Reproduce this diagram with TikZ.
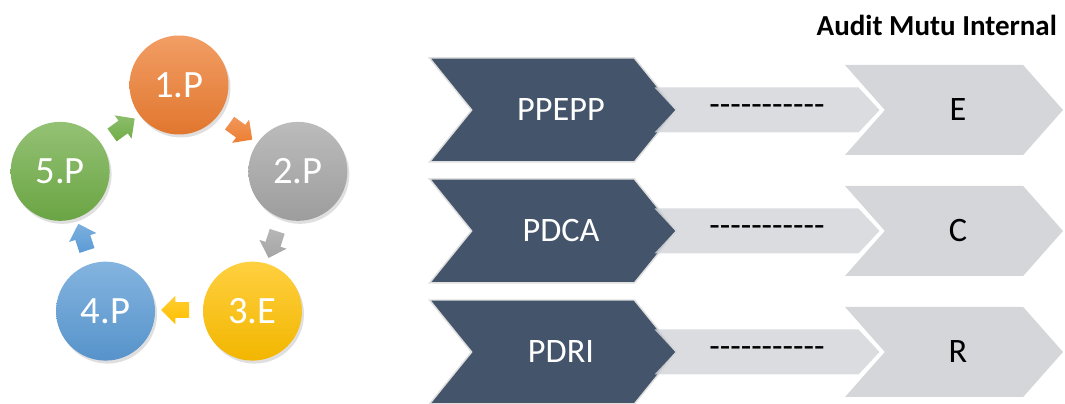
\documentclass[tikz,border=0pt]{standalone}
\usepackage{fontspec}
\setmainfont{Carlito}
\usetikzlibrary{shapes.symbols,shapes.arrows,shadows}

\definecolor{slate}{HTML}{44546A}
\definecolor{paleGrey}{HTML}{D4D6DA}
\definecolor{orangeP}{HTML}{ED7D31}
\definecolor{greyP}{HTML}{A5A5A5}
\definecolor{goldE}{HTML}{FFC000}
\definecolor{blueP}{HTML}{5B9BD5}
\definecolor{greenP}{HTML}{70AD47}

% eleven plain hyphens, kept apart so they do not join into dashes
\newcommand{\hyph}{-\kern0pt}
\newcommand{\dashline}{\hyph\hyph\hyph\hyph\hyph\hyph\hyph\hyph\hyph\hyph\hyph}

\begin{document}
\begin{tikzpicture}[x=0.02cm,y=0.02cm,
    ring node/.style={circle, minimum size=1.98cm, inner sep=0pt, text=white,
      font=\fontsize{22}{22}\selectfont, top color=#1!75!white, bottom color=#1!95!black,
      drop shadow={opacity=0.25, shadow xshift=0.04cm, shadow yshift=-0.06cm}},
    ring arrow/.style={single arrow, minimum height=0.56cm, minimum width=0.56cm,
      inner sep=0.15cm, single arrow head extend=0.13cm, top color=#1!80!white, bottom color=#1},
    dark chev/.style={signal, signal to=east, signal from=west, signal pointer angle=102,
      minimum width=4.94cm, minimum height=2.08cm, inner sep=0pt, fill=slate,
      draw=gray!25, line width=0.03cm, text=white, font=\fontsize{19.5}{20}\selectfont},
    mid chev/.style={signal, signal to=east, signal from=west, signal pointer angle=94,
      minimum width=4.5cm, minimum height=0.9cm, inner sep=0pt, fill=paleGrey,
      fill opacity=0.85, text opacity=1, font=\fontsize{19.5}{20}\selectfont},
    pale chev/.style={signal, signal to=east, signal from=west, signal pointer angle=97,
      minimum width=4.36cm, minimum height=1.8cm, inner sep=0pt, fill=paleGrey,
      font=\fontsize{19.5}{20}\selectfont}]

  \useasboundingbox (0,0) rectangle (1065,404);

  % cycle on the left
  \begin{scope}[shift={(179,194)}]
    \node[ring node=orangeP] (p1) at (90:125) {1.P};
    \node[ring node=greyP]   (p2) at (18:125) {2.P};
    \node[ring node=goldE]   (e3) at (-54:125) {3.E};
    \node[ring node=blueP]   (p4) at (-126:125) {4.P};
    \node[ring node=greenP]  (p5) at (162:125) {5.P};

    \node[ring arrow=orangeP, rotate=-36]  (a12) at (54:100) {};
    \node[ring arrow=greyP,   rotate=-108] (a23) at (-18:100) {};
    \node[ring arrow=goldE,   rotate=180]  (a34) at (-90:100) {};
    \node[ring arrow=blueP,   rotate=108]  (a45) at (-162:100) {};
    \node[ring arrow=greenP,  rotate=36]   (a51) at (126:100) {};
  \end{scope}

  \node[anchor=east, font=\fontsize{16.5}{17}\selectfont\bfseries] (title) at (1063,379) {Audit Mutu Internal};

  % rows
  \node[dark chev] (ppepp) at (553,294) {\hspace*{0.32cm}PPEPP};
  \node[mid chev]  (dash1) at (767,294) {\dashline};
  \node[pale chev] (e)     at (954,294) {\hspace*{0.16cm}E};

  \node[dark chev] (pdca)  at (553,173) {\hspace*{0.32cm}PDCA};
  \node[mid chev]  (dash2) at (767,173) {\dashline};
  \node[pale chev] (c)     at (954,173) {\hspace*{0.16cm}C};

  \node[dark chev] (pdri)  at (553,52) {\hspace*{0.32cm}PDRI};
  \node[mid chev]  (dash3) at (767,52) {\dashline};
  \node[pale chev] (r)     at (954,52) {\hspace*{0.16cm}R};
\end{tikzpicture}
\end{document}
